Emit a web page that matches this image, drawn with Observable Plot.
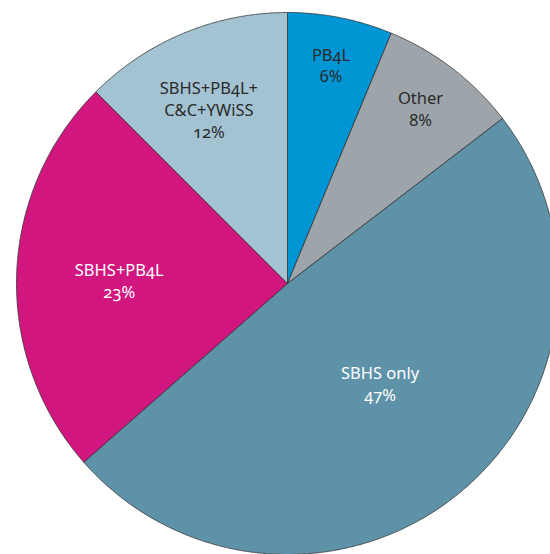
<!DOCTYPE html>
<html>
<head>
<meta charset="utf-8">
<script src="https://cdn.jsdelivr.net/npm/d3@7"></script>
<script src="https://cdn.jsdelivr.net/npm/@observablehq/plot@0.6"></script>
<style>
  html, body { margin: 0; padding: 0; background: #fff; }
  #chart svg { display: block; font-variant-numeric: oldstyle-nums; }
</style>
</head>
<body>
<div id="chart"></div>
<script>
// Data (clockwise from 12 o'clock)
const categories = ["PB4L", "Other", "SBHS only", "SBHS+PB4L", "SBHS+PB4L+\nC&C+YWiSS"];
const percents   = [6, 8, 47, 23, 12];
// Styling / label placement
const colors      = ["#0096d6", "#9ea5aa", "#5e92a9", "#d1167f", "#a3c3d3"];
const textColors  = ["#2a2a2a", "#2a2a2a", "#ffffff", "#ffffff", "#2a2a2a"];
const labelRadius = [0.824, 0.812, 0.502, 0.621, 0.705];
const labelShift  = [0, -0.3, -3.5, -0.7, -1.8]; // degrees

const W = 550, H = 554, CX = 287, CY = 283, R = 271;

const pie = d3.pie().sort(null).value(d => d.value);
const arcs = pie(categories.map((c, i) => ({ key: c, value: percents[i], i })));

// polygon points for each slice in unit-circle data space
const pts = [];
arcs.forEach(a => {
  const key = a.data.key;
  pts.push({ key, x: 0, y: 0 });
  const n = Math.max(2, Math.ceil((a.endAngle - a.startAngle) / (Math.PI / 720)));
  for (let k = 0; k <= n; k++) {
    const t = a.startAngle + (a.endAngle - a.startAngle) * k / n;
    pts.push({ key, x: Math.sin(t), y: Math.cos(t) });
  }
  pts.push({ key, x: 0, y: 0 });
});

const labels = arcs.map(a => {
  const i = a.data.i;
  const m = (a.startAngle + a.endAngle) / 2 + labelShift[i] * Math.PI / 180;
  return {
    key: a.data.key,
    text: a.data.key + "\n" + a.data.value + "%",
    x: labelRadius[i] * Math.sin(m),
    y: labelRadius[i] * Math.cos(m),
    color: textColors[i]
  };
});

const chart = Plot.plot({
  width: W,
  height: H,
  margin: 0,
  style: { fontFamily: "'Noto Sans', sans-serif", background: "#fff" },
  x: { domain: [-1, 1], range: [CX - R, CX + R], axis: null },
  y: { domain: [-1, 1], range: [CY + R, CY - R], axis: null },
  color: { domain: categories, range: colors },
  marks: [
    Plot.line(pts, { x: "x", y: "y", z: "key", fill: "key", stroke: "#333", strokeWidth: 0.8, strokeLinejoin: "round" }),
    Plot.text(labels, { x: "x", y: "y", text: "text", fill: d => d.color, fontSize: 16.5, lineHeight: 1.33, textAnchor: "middle" })
  ]
});
document.getElementById("chart").appendChild(chart);
</script>
</body>
</html>
